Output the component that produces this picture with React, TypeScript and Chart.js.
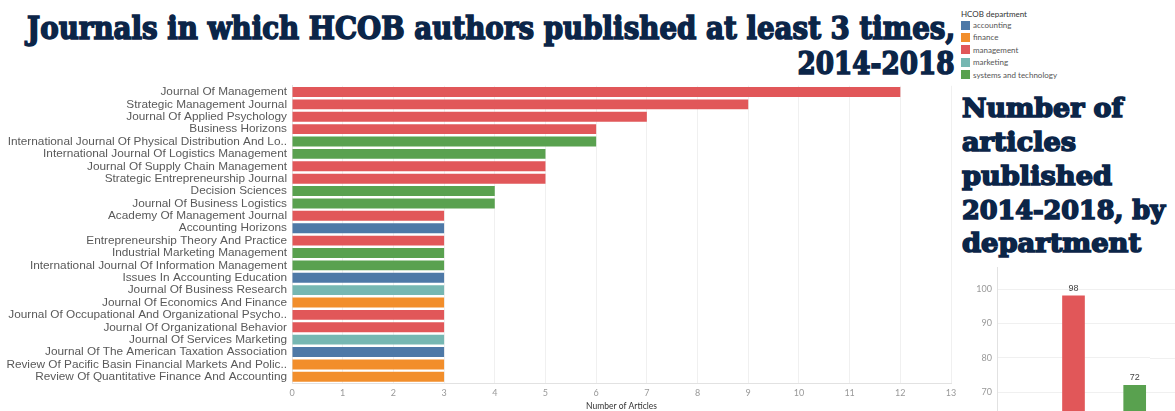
import React, { useEffect, useLayoutEffect, useRef } from "react";
import { Chart, registerables } from "chart.js";

Chart.register(...registerables);
Chart.defaults.font.family = "'Liberation Sans', Arial, sans-serif";

// ---------- data ----------
const journals = [
  "Journal Of Management",
  "Strategic Management Journal",
  "Journal Of Applied Psychology",
  "Business Horizons",
  "International Journal Of Physical Distribution And Lo..",
  "International Journal Of Logistics Management",
  "Journal Of Supply Chain Management",
  "Strategic Entrepreneurship Journal",
  "Decision Sciences",
  "Journal Of Business Logistics",
  "Academy Of Management Journal",
  "Accounting Horizons",
  "Entrepreneurship Theory And Practice",
  "Industrial Marketing Management",
  "International Journal Of Information Management",
  "Issues In Accounting Education",
  "Journal Of Business Research",
  "Journal Of Economics And Finance",
  "Journal Of Occupational And Organizational Psycho..",
  "Journal Of Organizational Behavior",
  "Journal Of Services Marketing",
  "Journal Of The American Taxation Association",
  "Review Of Pacific Basin Financial Markets And Polic..",
  "Review Of Quantitative Finance And Accounting",
];

const articles = [12, 9, 7, 6, 6, 5, 5, 5, 4, 4, 3, 3, 3, 3, 3, 3, 3, 3, 3, 3, 3, 3, 3, 3];

const journalDepartments = [
  "management",
  "management",
  "management",
  "management",
  "systems and technology",
  "systems and technology",
  "management",
  "management",
  "systems and technology",
  "systems and technology",
  "management",
  "accounting",
  "management",
  "systems and technology",
  "systems and technology",
  "accounting",
  "marketing",
  "finance",
  "management",
  "management",
  "marketing",
  "accounting",
  "finance",
  "finance",
];

const departments = ["accounting", "finance", "management", "marketing", "systems and technology"];
// accounting, finance, marketing fall below the visible part of the axis (estimated)
const departmentArticles = [45, 40, 98, 33, 72];

const articleTicks = { min: 0, max: 13, step: 1 };
const departmentTicks = { min: 0, max: 106.4, step: 10 };

const titleMain = ["Journals in which HCOB authors published at least 3 times,", "2014-2018"];
const titleSide = ["Number of", "articles", "published", "2014-2018, by", "department"];
const legendTitle = "HCOB department";
const xAxisTitle = "Number of Articles";

// ---------- styles ----------
const deptColors: Record<string, string> = {
  accounting: "#4e79a7",
  finance: "#f28e2b",
  management: "#e15759",
  marketing: "#76b7b2",
  "systems and technology": "#59a14f",
};

const TITLE_COLOR = "#0b2548";
const TITLE_FONT = "'DejaVu Serif', 'Liberation Serif', serif";
const GRID = "#f0f0f0";
const AXIS = "#e2e2e2";

function FitText(props: {
  text: string;
  width: number;
  x: number;
  y: number;
  size: number;
  align: "left" | "right";
}) {
  const ref = useRef<HTMLDivElement>(null);
  useLayoutEffect(() => {
    const el = ref.current;
    if (!el) return;
    const fit = () => {
      el.style.transform = "none";
      const w = el.getBoundingClientRect().width;
      if (w > 0) el.style.transform = `scaleX(${props.width / w})`;
    };
    fit();
    if ((document as any).fonts && (document as any).fonts.ready) {
      (document as any).fonts.ready.then(fit);
    }
  }, []);
  const pos: React.CSSProperties =
    props.align === "right" ? { right: 1175 - props.x } : { left: props.x };
  return (
    <div
      ref={ref}
      style={{
        position: "absolute",
        top: props.y - props.size / 2,
        ...pos,
        width: "max-content",
        whiteSpace: "nowrap",
        fontFamily: TITLE_FONT,
        fontWeight: 700,
        fontSize: props.size,
        lineHeight: `${props.size}px`,
        color: TITLE_COLOR,
        WebkitTextStroke: `1.6px ${TITLE_COLOR}`,
        transformOrigin: props.align === "right" ? "right center" : "left center",
      }}
    >
      {props.text}
    </div>
  );
}

const valueLabelPlugin = {
  id: "valueLabels",
  afterDatasetsDraw(chart: any) {
    const ctx = chart.ctx;
    const meta = chart.getDatasetMeta(0);
    const ds = chart.data.datasets[0];
    ctx.save();
    ctx.font = "9px 'Liberation Sans', Arial, sans-serif";
    ctx.fillStyle = "#444";
    ctx.textAlign = "center";
    ctx.textBaseline = "bottom";
    meta.data.forEach((bar: any, i: number) => {
      ctx.fillText(String(ds.data[i]), bar.x, bar.y - 3);
    });
    ctx.restore();
  },
};

// continue the horizontal grid lines to the right edge of the view, and draw the value axis line
const gridExtendPlugin = {
  id: "gridExtend",
  beforeDatasetsDraw(chart: any) {
    const ctx = chart.ctx;
    const y = chart.scales.y;
    const area = chart.chartArea;
    ctx.save();
    ctx.strokeStyle = GRID;
    ctx.lineWidth = 1;
    y.ticks.forEach((t: any) => {
      const py = Math.round(y.getPixelForValue(t.value)) + 0.5;
      if (py < area.top || py > area.bottom) return;
      ctx.beginPath();
      ctx.moveTo(area.right, py);
      ctx.lineTo(chart.width, py);
      ctx.stroke();
    });
    ctx.strokeStyle = AXIS;
    const px = Math.round(area.left) + 0.5;
    ctx.beginPath();
    ctx.moveTo(px, area.top);
    ctx.lineTo(px, area.bottom);
    ctx.stroke();
    ctx.restore();
  },
};

export default function App() {
  const leftRef = useRef<HTMLCanvasElement>(null);
  const rightRef = useRef<HTMLCanvasElement>(null);

  useEffect(() => {
    const left = new Chart(leftRef.current!, {
      type: "bar",
      data: {
        labels: journals,
        datasets: [
          {
            data: articles,
            backgroundColor: journalDepartments.map((d) => deptColors[d]),
            barPercentage: 0.8,
            categoryPercentage: 1,
          },
        ],
      },
      options: {
        indexAxis: "y",
        animation: false,
        responsive: false,
        maintainAspectRatio: false,
        plugins: { legend: { display: false }, tooltip: { enabled: false } },
        layout: { padding: { top: 5.8, right: 9, bottom: 0, left: 0 } },
        scales: {
          x: {
            min: articleTicks.min,
            max: articleTicks.max,
            ticks: {
              stepSize: articleTicks.step,
              color: "#999",
              font: { size: 9, family: "Lato, 'Liberation Sans', sans-serif" },
              padding: 5,
            },
            grid: { color: GRID, drawTicks: false },
            border: { color: AXIS },
            title: {
              display: true,
              text: xAxisTitle,
              color: "#333",
              font: { size: 8.5, family: "Lato, 'Liberation Sans', sans-serif" },
              padding: { top: 3, bottom: 0 },
            },
            afterFit: (s: any) => {
              s.height = 28;
              s.paddingLeft = 0;
              s.paddingRight = 0;
            },
          },
          y: {
            ticks: {
              autoSkip: false,
              color: "#595959",
              font: { size: 11.8 },
              padding: 5,
            },
            grid: { display: false, drawTicks: false },
            border: { color: AXIS },
            afterFit: (s: any) => {
              s.width = 292;
              s.paddingTop = 0;
              s.paddingBottom = 0;
            },
          },
        },
      },
    } as any);

    const right = new Chart(rightRef.current!, {
      type: "bar",
      data: {
        labels: departments,
        datasets: [
          {
            data: departmentArticles,
            backgroundColor: departments.map((d) => deptColors[d]),
            barThickness: 22,
          },
        ],
      },
      options: {
        animation: false,
        responsive: false,
        maintainAspectRatio: false,
        plugins: { legend: { display: false }, tooltip: { enabled: false } },
        layout: { padding: { top: 7, right: 50, bottom: 6.7, left: 0 } },
        scales: {
          x: {
            display: false,
          },
          y: {
            min: departmentTicks.min,
            max: departmentTicks.max,
            ticks: {
              stepSize: departmentTicks.step,
              includeBounds: false,
              color: "#999",
              font: { size: 9, family: "Lato, 'Liberation Sans', sans-serif" },
              padding: 5,
            },
            grid: { color: GRID, drawTicks: false },
            border: { display: false },
            afterFit: (s: any) => {
              s.width = 57;
              s.paddingTop = 0;
              s.paddingBottom = 0;
            },
          },
        },
      },
      plugins: [gridExtendPlugin, valueLabelPlugin],
    } as any);

    return () => {
      left.destroy();
      right.destroy();
    };
  }, []);

  return (
    <div
      style={{
        position: "fixed",
        left: 0,
        top: 0,
        width: 1175,
        height: 411,
        overflow: "hidden",
        background: "#fff",
      }}
    >
      <FitText text={titleMain[0]} width={928} x={955} y={28} size={31} align="right" />
      <FitText text={titleMain[1]} width={157} x={954} y={63} size={31} align="right" />

      {titleSide.map((t, i) => (
        <FitText
          key={t}
          text={t}
          width={[161, 114, 150, 203, 179][i]}
          x={962}
          y={[108, 142, 176, 210, 243][i]}
          size={26}
          align="left"
        />
      ))}

      <div
        style={{
          position: "absolute",
          left: 961,
          top: 9,
          fontFamily: "Lato, 'Liberation Sans', sans-serif",
          fontSize: 8,
          lineHeight: "10px",
          color: "#333",
        }}
      >
        {legendTitle}
      </div>
      {departments.map((d, i) => (
        <div
          key={d}
          style={{
            position: "absolute",
            left: 961,
            top: 20.5 + i * 12.4,
            height: 9,
            display: "flex",
            alignItems: "center",
            fontFamily: "Lato, 'Liberation Sans', sans-serif",
            fontSize: 8,
            color: "#555",
            whiteSpace: "nowrap",
          }}
        >
          <span style={{ display: "inline-block", width: 9, height: 9, background: deptColors[d], marginRight: 3 }} />
          <span>{d}</span>
        </div>
      ))}

      <canvas
        ref={leftRef}
        width={960}
        height={331}
        style={{ position: "absolute", left: 0, top: 80, width: 960, height: 331 }}
      />
      <canvas
        ref={rightRef}
        width={260}
        height={380}
        style={{ position: "absolute", left: 940, top: 260, width: 260, height: 380 }}
      />
    </div>
  );
}
